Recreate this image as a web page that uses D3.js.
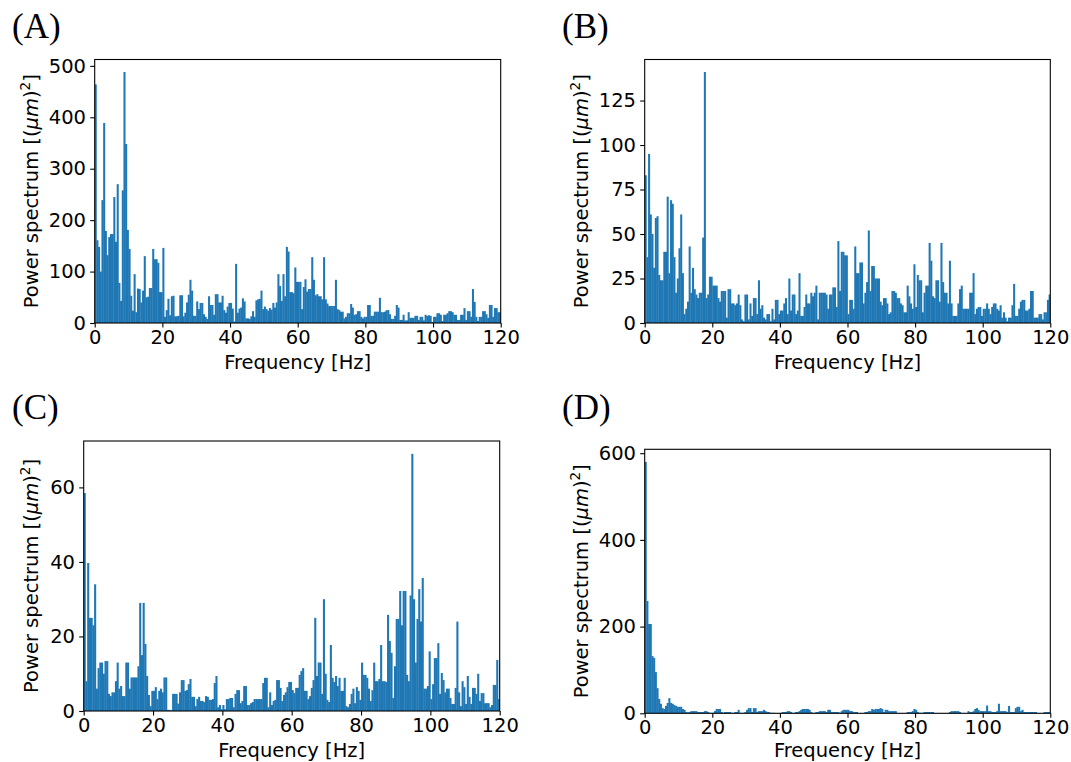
<!DOCTYPE html>
<html><head><meta charset="utf-8">
<script src="https://cdn.jsdelivr.net/npm/d3@7"></script>
<style>body{margin:0;background:#fff} svg{display:block}</style>
</head><body><svg id="c" width="1071" height="762"></svg>
<script>
// ---------- data ----------
const binWidth = 0.5;                       // Hz per bar
const frequencies = d3.range(240).map(i => i * binWidth);
const xTicks = [0, 20, 40, 60, 80, 100, 120];

const powerA = [
464,161,148,100,239,389,179,132,167,173, 173,245,158,270,78,43,258,488,348,181,
144,53,24,95,21,67,66,40,63,130, 50,51,68,68,144,124,124,117,60,60,
146,12,25,47,15,52,53,13,13,14, 54,54,13,20,40,55,84,63,14,14,
42,27,39,39,17,12,8,52,35,35, 16,56,56,40,40,53,25,20,32,39,
39,28,3,115,20,28,30,48,42,9, 9,8,13,23,12,44,46,47,63,27,
32,27,24,29,26,39,30,40,95,72, 43,95,52,148,139,60,60,58,108,80,
80,80,27,70,85,61,66,66,128,84, 54,56,52,52,46,128,46,38,33,33,
33,33,84,27,25,22,22,9,12,19, 19,37,30,16,17,23,23,12,9,12,
12,35,35,14,14,22,22,22,49,21, 21,22,25,25,17,8,8,14,35,30,
6,6,16,5,5,21,10,10,10,14, 14,6,12,12,5,16,14,15,14,2,
12,12,19,19,16,4,16,16,19,23, 23,21,16,16,6,6,16,16,29,6,
23,23,12,66,41,12,4,12,12,23, 23,17,10,35,35,12,29,29,21,21];
const yTicksA = [0, 100, 200, 300, 400, 500];

const powerB = [
83,37,95,61,50,31,59,60,27,24, 24,40,40,71,28,69,67,37,17,25,
42,61,28,5,8,12,43,17,31,19, 16,14,17,17,48,141,14,16,26,26,
21,21,21,14,12,18,18,18,3,19, 19,11,11,10,11,16,10,2,1,16,
16,2,11,4,14,14,5,24,8,10, 3,2,5,5,1,8,2,13,13,5,
7,7,11,14,5,25,7,16,16,5, 7,28,4,4,9,16,11,11,17,15,
17,21,2,17,17,17,17,16,8,16, 16,20,20,9,46,18,40,40,38,38,
5,13,13,8,43,28,28,34,34,11, 17,23,52,18,32,32,25,25,25,12,
10,14,14,11,5,6,18,18,17,14, 14,11,10,6,6,21,15,11,8,33,
9,27,24,24,6,17,21,21,45,35, 15,14,24,24,12,45,23,17,17,11,
35,11,4,4,4,11,19,21,8,8, 8,8,17,17,28,5,8,9,9,4,
8,8,11,8,5,9,11,11,8,7, 10,3,6,3,1,3,3,10,22,4,
4,8,12,13,13,7,7,8,18,18, 3,3,3,5,5,2,6,6,13,16];
const yTicksB = [0, 25, 50, 75, 100, 125];

const powerC = [
58.5,8,39.7,25,25,23,34,6,11.5,13, 13,10,13.4,13.4,4.6,4,5,5,8,13,
6,6.7,4,4,13,13,6,9,9,9, 9,12,29,15,29,18,9.4,4.3,1.3,5.4,
5.4,6.4,3.2,5.4,6,5,9,9,0.3,0.3, 0.2,4.6,4.6,4.6,2,5,8.3,8.3,5.4,5.6,
7.2,8.6,3.8,3.8,1.3,3.2,3.8,2.7,2.7,2.4, 4,3.8,3,3,3.2,7.5,9.4,1,1.6,0.5,
1.6,0.5,3.2,3.2,3.5,3.5,1,4.6,5.6,5.6, 2.1,2.7,6.7,6.7,1.6,1.6,2.1,2.4,3.2,3.2,
3.2,3.2,3.2,7.5,8.9,8.9,1,5,1.6,2.7, 3,8.3,8.3,6.2,2.7,4.3,5,6.4,7.8,7.8,
5.6,4.8,6.2,6.2,9.7,10.7,11.5,5.4,5.4,3.2, 4,6.2,8.3,25,9.4,13,13,4.6,30,10,
3,2.4,17.7,8.9,7.8,9.4,6.7,8.9,5.4,5.4, 8.9,1.3,1,1.9,4.6,6,2.1,6.4,5.4,3,
13,9.7,9.7,8.9,6,2.7,5.6,13,8,8, 8.6,17.7,8,8,7.8,25.8,18.8,15.6,3.5,12,
24.7,24.7,32.2,23,32.2,32.2,9.7,8,31,69, 30,13,24.7,32.7,24,35.7,6,6,6.7,16,
3.2,7.2,14.2,14.2,18.2,4.6,10.2,8.3,5,6, 6,3.5,1.9,1.9,6.2,24,5,1.3,8,6.4,
1.9,9.4,3.8,1.9,6.2,6.2,4.6,10,2.7,4.8, 4.8,2.1,2.1,2.1,1,1.6,7,7,13.7,3.2];
const yTicksC = [0, 20, 40, 60];

const powerD = [
580,259,206,206,132,128,95,58,33,22, 12,10,17,24,35,24,22,19,17,15,
15,15,10,8,3,2,3,5,5,5, 5,3,3,3,3,5,5,3,1,1,
1,5,10,10,10,3,1.5,3,3,3, 3,1,1,3,3,8,1,1,1,3,
8,12,12,3,12,12,3,5,5,5, 8,5,3,3,1,1,1,0.5,0.5,0.5,
0.5,3,3,3,5,5,3,1,1,3, 3,5,8,10,10,10,10,8,3,1,
1,3,3,5,5,5,5,3,8,8, 3,3,3,3,3,1,5,8,8,8,
8,5,5,3,3,3,0,0,0,0, 3,3,5,5,10,8,10,10,10,12,
10,3,8,8,5,5,5,5,5,0, 0,0,0,0,0,3,3,3,5,10,
8,3,1,1,1,3,3,3,3,3, 3,0,0,0,0,0,0,0,0,0,
3,5,5,5,5,5,3,0,0,0, 0,5,3,3,5,10,12,8,5,5,
5,5,18,5,5,3,3,3,5,22, 5,5,5,5,3,17,3,3,3,12,
15,15,5,8,3,3,3,3,3,3, 3,3,0,0,0,0,3,3,3,3];
const yTicksD = [0, 200, 400, 600];

const panelLabels = ["(A)", "(B)", "(C)", "(D)"];

// ---------- layout ----------
const panels = [
  {id:"A", label:panelLabels[0], values:powerA, yTicks:yTicksA, l:94.7, r:500.7, t:59.5, b:323,
   lx:12, ly:38, ylx:38, xly:369},
  {id:"B", label:panelLabels[1], values:powerB, yTicks:yTicksB, l:644.7, r:1050.3, t:59.5, b:323,
   lx:562, ly:38, ylx:588, xly:369},
  {id:"C", label:panelLabels[2], values:powerC, yTicks:yTicksC, l:83.7, r:499.7, t:441, b:711,
   lx:12, ly:419, ylx:38, xly:756.5},
  {id:"D", label:panelLabels[3], values:powerD, yTicks:yTicksD, l:644.7, r:1050.3, t:449.3, b:713.3,
   lx:562, ly:419, ylx:588, xly:756.5}
];

const svg = d3.select("#c");
const FONT = "'DejaVu Sans', sans-serif";
const FS = 19.5;
const BLUE = "#1f77b4";
const defs = svg.append("defs");

panels.forEach(p => {
  const x = d3.scaleLinear().domain([0, 120]).range([p.l, p.r]);
  const yMax = d3.max(p.values) * 1.05;
  const y = d3.scaleLinear().domain([0, yMax]).range([p.b, p.t]);

  defs.append("clipPath").attr("id", "clip" + p.id)
    .append("rect").attr("x", p.l).attr("y", p.t)
    .attr("width", p.r - p.l).attr("height", p.b - p.t);

  const g = svg.append("g");
  g.append("g").attr("clip-path", `url(#clip${p.id})`)
    .selectAll("rect").data(p.values).join("rect")
    .attr("x", (d, i) => x(frequencies[i]))
    .attr("width", (d, i) => x(frequencies[i] + binWidth) - x(frequencies[i]) + 0.35)
    .attr("y", d => y(d))
    .attr("height", d => y(0) - y(d))
    .attr("fill", BLUE);

  // axes
  const xAxis = d3.axisBottom(x).tickValues(xTicks).tickFormat(d3.format("d"))
    .tickSize(4.5).tickSizeOuter(0).tickPadding(2.7);
  const yAxis = d3.axisLeft(y).tickValues(p.yTicks).tickFormat(d3.format("d"))
    .tickSize(4.5).tickSizeOuter(0).tickPadding(4.2);

  const gx = g.append("g").attr("transform", `translate(0,${p.b})`).call(xAxis);
  const gy = g.append("g").attr("transform", `translate(${p.l},0)`).call(yAxis);
  [gx, gy].forEach(a => {
    a.select(".domain").remove();
    a.selectAll(".tick line").attr("stroke", "#000").attr("stroke-width", 1.1);
    a.selectAll(".tick text").attr("fill", "#000")
      .style("font-family", FONT).style("font-size", FS + "px");
  });

  // spines
  g.append("rect").attr("x", p.l).attr("y", p.t)
    .attr("width", p.r - p.l).attr("height", p.b - p.t)
    .attr("fill", "none").attr("stroke", "#000").attr("stroke-width", 1.1);

  // x label
  g.append("text").attr("x", (p.l + p.r) / 2).attr("y", p.xly)
    .attr("text-anchor", "middle").style("font-family", FONT).style("font-size", FS + "px")
    .text("Frequency [Hz]");

  // y label
  const yl = g.append("text")
    .attr("transform", `translate(${p.ylx},${(p.t + p.b) / 2}) rotate(-90)`)
    .attr("text-anchor", "middle").style("font-family", FONT).style("font-size", FS + "px");
  yl.append("tspan").text("Power spectrum [(");
  yl.append("tspan").style("font-style", "italic").text("μm");
  yl.append("tspan").text(")");
  yl.append("tspan").attr("dy", -8).style("font-size", "13.5px").text("2");
  yl.append("tspan").attr("dy", 8).text("]");

  // panel label
  svg.append("text").attr("x", p.lx).attr("y", p.ly)
    .style("font-family", "'Liberation Serif', 'DejaVu Serif', serif").style("font-size", "35px")
    .text(p.label);
});
</script>
</body></html>
